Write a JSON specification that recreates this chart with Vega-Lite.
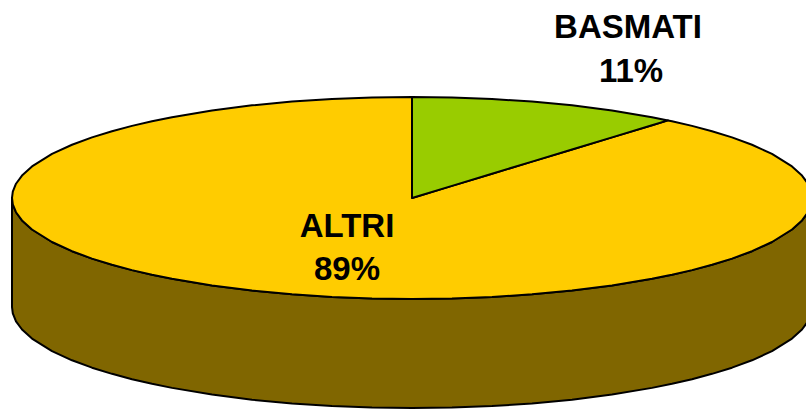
{"$schema":"https://vega.github.io/schema/vega-lite/v6.json","width":806,"height":410,"padding":0,"autosize":{"type":"none"},"background":"white","config":{"view":{"stroke":null}},
"datasets":{"shape":[
{"part":"wall","u":-1,"a":0,"b":-1.08},{"part":"wall","u":-0.998,"a":-0.063,"b":-1.143},{"part":"wall","u":-0.99,"a":-0.141,"b":-1.221},{"part":"wall","u":-0.975,"a":-0.222,"b":-1.302},{"part":"wall","u":-0.95,"a":-0.312,"b":-1.392},{"part":"wall","u":-0.9,"a":-0.436,"b":-1.516},{"part":"wall","u":-0.85,"a":-0.527,"b":-1.607},{"part":"wall","u":-0.8,"a":-0.6,"b":-1.68},{"part":"wall","u":-0.75,"a":-0.661,"b":-1.741},{"part":"wall","u":-0.7,"a":-0.714,"b":-1.794},{"part":"wall","u":-0.65,"a":-0.76,"b":-1.84},{"part":"wall","u":-0.6,"a":-0.8,"b":-1.88},{"part":"wall","u":-0.5,"a":-0.866,"b":-1.946},{"part":"wall","u":-0.4,"a":-0.917,"b":-1.997},{"part":"wall","u":-0.3,"a":-0.954,"b":-2.034},{"part":"wall","u":-0.2,"a":-0.98,"b":-2.06},{"part":"wall","u":-0.1,"a":-0.995,"b":-2.075},{"part":"wall","u":0,"a":-1,"b":-2.08},{"part":"wall","u":0.1,"a":-0.995,"b":-2.075},{"part":"wall","u":0.2,"a":-0.98,"b":-2.06},{"part":"wall","u":0.3,"a":-0.954,"b":-2.034},{"part":"wall","u":0.4,"a":-0.917,"b":-1.997},{"part":"wall","u":0.5,"a":-0.866,"b":-1.946},{"part":"wall","u":0.6,"a":-0.8,"b":-1.88},{"part":"wall","u":0.65,"a":-0.76,"b":-1.84},{"part":"wall","u":0.7,"a":-0.714,"b":-1.794},{"part":"wall","u":0.75,"a":-0.661,"b":-1.741},{"part":"wall","u":0.8,"a":-0.6,"b":-1.68},{"part":"wall","u":0.85,"a":-0.527,"b":-1.607},{"part":"wall","u":0.9,"a":-0.436,"b":-1.516},{"part":"wall","u":0.95,"a":-0.312,"b":-1.392},{"part":"wall","u":0.975,"a":-0.222,"b":-1.302},{"part":"wall","u":0.99,"a":-0.141,"b":-1.221},{"part":"wall","u":1,"a":0,"b":-1.08},
{"part":"ALTRI","u":-1,"a":0,"b":0},{"part":"ALTRI","u":-0.998,"a":0.063,"b":-0.063},{"part":"ALTRI","u":-0.99,"a":0.141,"b":-0.141},{"part":"ALTRI","u":-0.975,"a":0.222,"b":-0.222},{"part":"ALTRI","u":-0.95,"a":0.312,"b":-0.312},{"part":"ALTRI","u":-0.9,"a":0.436,"b":-0.436},{"part":"ALTRI","u":-0.85,"a":0.527,"b":-0.527},{"part":"ALTRI","u":-0.8,"a":0.6,"b":-0.6},{"part":"ALTRI","u":-0.75,"a":0.661,"b":-0.661},{"part":"ALTRI","u":-0.7,"a":0.714,"b":-0.714},{"part":"ALTRI","u":-0.65,"a":0.76,"b":-0.76},{"part":"ALTRI","u":-0.6,"a":0.8,"b":-0.8},{"part":"ALTRI","u":-0.5,"a":0.866,"b":-0.866},{"part":"ALTRI","u":-0.4,"a":0.917,"b":-0.917},{"part":"ALTRI","u":-0.3,"a":0.954,"b":-0.954},{"part":"ALTRI","u":-0.2,"a":0.98,"b":-0.98},{"part":"ALTRI","u":-0.1,"a":0.995,"b":-0.995},{"part":"ALTRI","u":0,"a":1,"b":-1},{"part":"ALTRI","u":0.0005,"a":0,"b":-1},{"part":"ALTRI","u":0.1,"a":0.12,"b":-0.995},{"part":"ALTRI","u":0.2,"a":0.24,"b":-0.98},{"part":"ALTRI","u":0.3,"a":0.36,"b":-0.954},{"part":"ALTRI","u":0.4,"a":0.48,"b":-0.917},{"part":"ALTRI","u":0.5,"a":0.6,"b":-0.866},{"part":"ALTRI","u":0.6,"a":0.72,"b":-0.8},{"part":"ALTRI","u":0.64,"a":0.768,"b":-0.768},{"part":"ALTRI","u":0.65,"a":0.76,"b":-0.76},{"part":"ALTRI","u":0.7,"a":0.714,"b":-0.714},{"part":"ALTRI","u":0.75,"a":0.661,"b":-0.661},{"part":"ALTRI","u":0.8,"a":0.6,"b":-0.6},{"part":"ALTRI","u":0.85,"a":0.527,"b":-0.527},{"part":"ALTRI","u":0.9,"a":0.436,"b":-0.436},{"part":"ALTRI","u":0.95,"a":0.312,"b":-0.312},{"part":"ALTRI","u":0.975,"a":0.222,"b":-0.222},{"part":"ALTRI","u":0.99,"a":0.141,"b":-0.141},{"part":"ALTRI","u":1,"a":0,"b":0},
{"part":"BASMATI","u":0,"a":1,"b":0},{"part":"BASMATI","u":0.1,"a":0.995,"b":0.12},{"part":"BASMATI","u":0.2,"a":0.98,"b":0.24},{"part":"BASMATI","u":0.3,"a":0.954,"b":0.36},{"part":"BASMATI","u":0.4,"a":0.917,"b":0.48},{"part":"BASMATI","u":0.5,"a":0.866,"b":0.6},{"part":"BASMATI","u":0.6,"a":0.8,"b":0.72},{"part":"BASMATI","u":0.64,"a":0.768,"b":0.768}
],"labels":[
{"text":"BASMATI","u":0.54,"v":1.584},{"text":"11%","u":0.5475,"v":1.149},{"text":"ALTRI","u":-0.1625,"v":-0.386},{"text":"89%","u":-0.1625,"v":-0.812}
]},
"layer":[
{"data":{"name":"shape"},"transform":[{"filter":"datum.part==='wall'"}],"mark":{"type":"area","strokeWidth":2,"clip":true,"color":"#806600","stroke":"black","strokeJoin":"round"},"encoding":{"x":{"field":"u","type":"quantitative","scale":{"domain":[-1.03,0.985],"nice":false,"zero":false},"axis":null},"y":{"field":"a","type":"quantitative","scale":{"domain":[-2.099,1.96],"nice":false,"zero":false},"axis":null,"stack":null},"y2":{"field":"b"}}},
{"data":{"name":"shape"},"transform":[{"filter":"datum.part==='ALTRI'"}],"mark":{"type":"area","stroke":"black","strokeWidth":2,"clip":true,"color":"#FFCC00","strokeJoin":"round"},"encoding":{"x":{"field":"u","type":"quantitative","axis":null},"y":{"field":"a","type":"quantitative","axis":null,"stack":null},"y2":{"field":"b"}}},
{"data":{"name":"shape"},"transform":[{"filter":"datum.part==='BASMATI'"}],"mark":{"type":"area","stroke":"black","strokeWidth":2,"clip":true,"color":"#99CC00","strokeJoin":"round"},"encoding":{"x":{"field":"u","type":"quantitative","axis":null},"y":{"field":"a","type":"quantitative","axis":null,"stack":null},"y2":{"field":"b"}}},
{"data":{"name":"labels"},"mark":{"type":"text","font":"Liberation Sans","fontWeight":"bold","fontSize":33,"align":"center","baseline":"alphabetic","color":"black"},"encoding":{"x":{"field":"u","type":"quantitative","axis":null},"y":{"field":"v","type":"quantitative","axis":null},"text":{"field":"text"}}}
],"resolve":{"scale":{"x":"shared","y":"shared"}}}
